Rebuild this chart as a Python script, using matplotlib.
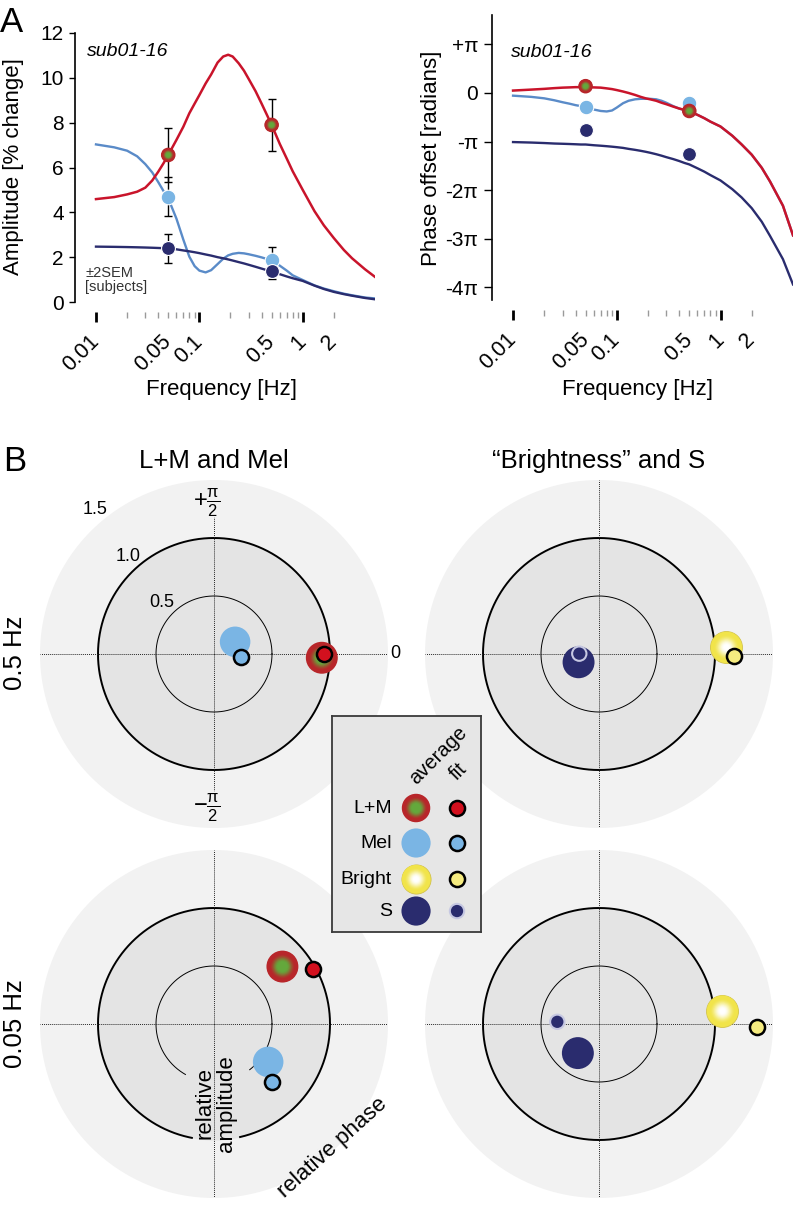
import numpy as np
import matplotlib
matplotlib.use("Agg")
import matplotlib.pyplot as plt
from matplotlib import colors as mcolors

plt.rcParams['font.family'] = ['Liberation Sans', 'DejaVu Sans']
plt.rcParams['mathtext.fontset'] = 'custom'
plt.rcParams['mathtext.rm'] = 'Liberation Sans'
plt.rcParams['mathtext.it'] = 'Liberation Sans:italic'
plt.rcParams['mathtext.bf'] = 'Liberation Sans:bold'

# ---------------- data: panel A ----------------
freq_curve = [0.01, 0.015, 0.02, 0.025, 0.03, 0.035, 0.04, 0.045, 0.05, 0.06, 0.07, 0.08, 0.09,
              0.1, 0.115, 0.13, 0.15, 0.17, 0.19, 0.21, 0.24, 0.27, 0.3, 0.35, 0.4, 0.45,
              0.5, 0.6, 0.7, 0.8, 1.0, 1.3, 1.6, 2.0, 2.5, 3.0, 4.0, 5.0]
amp_lm_curve = [4.59, 4.68, 4.80, 4.92, 5.10, 5.42, 5.81, 6.19, 6.56, 7.23, 7.82, 8.42, 8.85,
                9.23, 9.75, 10.15, 10.68, 10.95, 11.03, 10.95, 10.65, 10.32, 9.95, 9.4, 8.85, 8.35,
                7.90, 7.05, 6.4, 5.83, 5.0, 4.05, 3.42, 2.85, 2.32, 1.95, 1.46, 1.12]
amp_mel_curve = [7.03, 6.9, 6.75, 6.5, 6.15, 5.78, 5.35, 4.95, 4.62, 3.72, 2.78, 2.02, 1.6,
                 1.4, 1.32, 1.42, 1.69, 1.93, 2.08, 2.15, 2.19, 2.17, 2.13, 2.06, 1.99, 1.92,
                 1.87, 1.62, 1.4, 1.19, 0.98, 0.74, 0.6, 0.48, 0.37, 0.3, 0.2, 0.16]
amp_s_curve = [2.47, 2.46, 2.45, 2.44, 2.43, 2.42, 2.41, 2.40, 2.39, 2.35, 2.3, 2.26, 2.22,
               2.18, 2.12, 2.07, 2.0, 1.95, 1.9, 1.85, 1.78, 1.72, 1.66, 1.57, 1.49, 1.42,
               1.36, 1.24, 1.14, 1.06, 0.94, 0.73, 0.58, 0.45, 0.35, 0.28, 0.18, 0.12]
# phase in units of pi
ph_lm_curve = [0.05, 0.07, 0.085, 0.10, 0.11, 0.115, 0.12, 0.12, 0.12, 0.115, 0.11, 0.095, 0.08,
               0.06, 0.03, 0.0, -0.04, -0.08, -0.11, -0.13, -0.16, -0.2, -0.23, -0.28, -0.32, -0.35,
               -0.38, -0.45, -0.52, -0.59, -0.69, -0.88, -1.06, -1.27, -1.54, -1.82, -2.32, -2.93]
ph_mel_curve = [-0.055, -0.08, -0.11, -0.15, -0.19, -0.22, -0.25, -0.27, -0.29, -0.34, -0.37, -0.38, -0.36,
                -0.3, -0.21, -0.16, -0.13, -0.12, -0.12, -0.12, -0.13, -0.16, -0.2, -0.27, -0.32, -0.35,
                -0.38, -0.45, -0.52, -0.59, -0.69, -0.88, -1.06, -1.27, -1.54, -1.82, -2.32, -2.93]
ph_s_curve = [-1.01, -1.02, -1.03, -1.04, -1.045, -1.05, -1.055, -1.06, -1.06, -1.075, -1.085, -1.095, -1.105,
              -1.115, -1.13, -1.15, -1.17, -1.19, -1.21, -1.23, -1.26, -1.29, -1.32, -1.36, -1.40, -1.44,
              -1.47, -1.55, -1.62, -1.69, -1.80, -1.98, -2.15, -2.37, -2.65, -2.94, -3.42, -3.94]

freq_pts = [0.05, 0.5]
amp_lm_pts = [6.56, 7.9]
amp_mel_pts = [4.7, 1.87]
amp_s_pts = [2.39, 1.38]
err_lm = [1.2, 1.16]
err_mel = [0.87, 0.6]
err_s = [0.66, 0.34]
ph_lm_pts = [0.14, -0.37]
ph_mel_pts = [-0.29, -0.21]
ph_s_pts = [-0.76, -1.25]

major_ticks = [0.01, 0.1, 1]
major_labels = ['0.01', '0.1', '1']
minor_ticks = [0.02, 0.03, 0.04, 0.05, 0.06, 0.07, 0.08, 0.09,
               0.2, 0.3, 0.4, 0.5, 0.6, 0.7, 0.8, 0.9, 2]
minor_labels = ['', '', '', '0.05', '', '', '', '', '', '', '', '0.5', '', '', '', '', '2']
amp_ticks = [0, 2, 4, 6, 8, 10, 12]
phase_ticks = [1, 0, -1, -2, -3, -4]
phase_labels = ['+π', '0', '-π', '-2π', '-3π', '-4π']

# ---------------- data: panel B (relative amplitude, phase in degrees) ----------------
polar_rows = ['0.5 Hz', '0.05 Hz']
lm_avg_amp = [0.93, 0.77];   lm_avg_deg = [-2, 40]
lm_fit_amp = [0.95, 0.98];   lm_fit_deg = [0, 29]
mel_avg_amp = [0.21, 0.57];  mel_avg_deg = [30, -35]
mel_fit_amp = [0.23, 0.71];  mel_fit_deg = [-6, -45]
br_avg_amp = [1.10, 1.07];   br_avg_deg = [3, 6]
br_fit_amp = [1.16, 1.36];   br_fit_deg = [-1, -1]
s_avg_amp = [0.19, 0.31];    s_avg_deg = [-158, -126]
s_fit_amp = [0.17, 0.36];    s_fit_deg = [179, 177]

legend_names = ['L+M', 'Mel', 'Bright', 'S']

# ---------------- colours ----------------
C_LM = '#c9142b'
C_MEL_LINE = '#5a8bc8'
C_MEL = '#7ab5e4'
C_S = '#2a2c6e'
C_RED_RIM = '#b8262a'
C_GREEN = '#64a83c'
C_FIT_RED = '#d3101e'
C_YEL = '#f1e44a'
C_FIT_YEL = '#f6ec80'
C_HALO = '#c6c8e2'
C_OUT = '#f2f2f2'
C_IN = '#e4e4e4'

W, H = 796, 1205
fig = plt.figure(figsize=(W / 100, H / 100), dpi=100)


def px_axes(left, top, right, bottom, **kw):
    return fig.add_axes([left / W, 1 - bottom / H, (right - left) / W, (bottom - top) / H], **kw)


def px_text(x, y, s, **kw):
    return fig.text(x / W, 1 - y / H, s, **kw)


def gradient_disk(ax, xs, ys, diam, c_edge, c_center, z, inner=0.2, outer=0.8, n=22, **kw):
    ce = np.array(mcolors.to_rgb(c_edge))
    cc = np.array(mcolors.to_rgb(c_center))
    for i in range(n):
        frac = 1 - i / n
        w = np.clip((outer - frac) / (outer - inner), 0, 1)
        w = w * w * (3 - 2 * w)
        col = ce * (1 - w) + cc * w
        ax.scatter(xs, ys, s=(diam * frac) ** 2, color=col, edgecolors='none',
                   zorder=z + i * 0.001, clip_on=False, **kw)


def setup_freq_axis(ax):
    ax.set_xscale('log')
    ax.set_xlim(10 ** -2.203, 5.0)
    for s in ['top', 'right']:
        ax.spines[s].set_visible(False)
    ax.spines['bottom'].set_position(('outward', 7))
    ax.spines['bottom'].set_visible(False)
    ax.spines['left'].set_linewidth(1.2)
    ax.set_xticks(major_ticks, labels=major_labels)
    ax.set_xticks(minor_ticks, labels=minor_labels, minor=True)
    ax.tick_params(axis='x', which='major', length=7, width=2, color='black',
                   direction='out', labelsize=15.5, pad=12.5)
    ax.tick_params(axis='x', which='minor', length=4.5, width=1, color='#9a9a9a',
                   direction='out', labelsize=15.5, pad=15)
    for lab in ax.get_xticklabels(which='both'):
        lab.set_rotation(45)
        lab.set_ha('right')
        lab.set_va('center')
        lab.set_rotation_mode('anchor')
    ax.tick_params(axis='y', length=4, width=1, labelsize=15, pad=4)
    ax.set_facecolor('none')


# ---------------- Panel A left: amplitude ----------------
axA = px_axes(75, 33, 375, 302)
setup_freq_axis(axA)
axA.set_ylim(0, 12)
axA.set_yticks(amp_ticks)
axA.plot(freq_curve, amp_mel_curve, color=C_MEL_LINE, lw=1.7, zorder=2)
axA.plot(freq_curve, amp_s_curve, color=C_S, lw=1.7, zorder=2.1)
axA.plot(freq_curve, amp_lm_curve, color=C_LM, lw=1.8, zorder=2.2)
for vals, err in [(amp_lm_pts, err_lm), (amp_mel_pts, err_mel), (amp_s_pts, err_s)]:
    axA.errorbar(freq_pts, vals, yerr=err, fmt='none', ecolor='black', elinewidth=1,
                 capsize=2.8, capthick=1, zorder=3)
axA.plot(freq_pts, amp_mel_pts, 'o', ms=10.5, mfc=C_MEL, mec='white', mew=0.8, zorder=4, clip_on=False)
axA.plot(freq_pts, amp_s_pts, 'o', ms=10, mfc=C_S, mec='white', mew=0.8, zorder=4.5, clip_on=False)
gradient_disk(axA, freq_pts, amp_lm_pts, 10.5, C_RED_RIM, C_GREEN, 5, inner=0.3, outer=0.8, n=14)
axA.text(0.04, 0.933, 'sub01-16', transform=axA.transAxes, fontsize=14, style='italic',
         ha='left', va='center')
axA.text(0.035, 0.082, '±2SEM\n[subjects]', transform=axA.transAxes, fontsize=10.5,
         color='#333333', ha='left', va='center', linespacing=1.05)
px_text(14, 167, 'Amplitude [% change]', fontsize=16, rotation=90, ha='center', va='center')
px_text(221, 389, 'Frequency [Hz]', fontsize=16, ha='center', va='center')

# ---------------- Panel A right: phase ----------------
axP = px_axes(492, 15, 793, 300)
setup_freq_axis(axP)
axP.set_ylim(-4.26, 1.605)
axP.set_yticks(phase_ticks, labels=phase_labels)
axP.tick_params(axis='y', length=6)
axP.plot(freq_curve, ph_mel_curve, color=C_MEL_LINE, lw=1.7, zorder=2)
axP.plot(freq_curve, ph_s_curve, color=C_S, lw=1.7, zorder=2.1)
axP.plot(freq_curve, ph_lm_curve, color=C_LM, lw=1.8, zorder=2.2)
axP.plot(freq_pts, ph_mel_pts, 'o', ms=10.5, mfc=C_MEL, mec='white', mew=0.8, zorder=4, clip_on=False)
axP.plot(freq_pts, ph_s_pts, 'o', ms=10, mfc=C_S, mec='white', mew=0.8, zorder=4, clip_on=False)
gradient_disk(axP, freq_pts, ph_lm_pts, 10.5, C_RED_RIM, C_GREEN, 5, inner=0.3, outer=0.8, n=14)
axP.text(0.063, 0.867, 'sub01-16', transform=axP.transAxes, fontsize=14, style='italic',
         ha='left', va='center')
px_text(432, 158, 'Phase offset [radians]', fontsize=16, rotation=90, ha='center', va='center')
px_text(638, 389, 'Frequency [Hz]', fontsize=16, ha='center', va='center')

px_text(0, 6, 'A', fontsize=25, ha='left', va='top')
px_text(3, 445, 'B', fontsize=25, ha='left', va='top')

# ---------------- Panel B: polar plots ----------------
RMAX = 1.5
HALF = 174


def ring(ax, r, lw, gap=None):
    th = np.linspace(0, 2 * np.pi, 721)
    rr = np.full_like(th, r)
    if gap is not None:
        deg = np.rad2deg(th)
        rr[(deg > gap[0]) & (deg < gap[1])] = np.nan
    ax.plot(th, rr, color='black', lw=lw, zorder=2)


def polar_panel(cx, cy, vlen=RMAX, gaps=(None, None)):
    ax = px_axes(cx - HALF, cy - HALF, cx + HALF, cy + HALF, projection='polar')
    ax.set_facecolor(C_OUT)
    ax.spines['polar'].set_visible(False)
    ax.set_ylim(0, RMAX)
    ax.set_xticks([])
    ax.set_yticks([])
    ax.grid(False)
    th = np.linspace(0, 2 * np.pi, 721)
    ax.fill_between(th, 0, 1.0, color=C_IN, lw=0, zorder=0.5)
    ring(ax, 1.0, 1.4, gaps[0])
    ring(ax, 0.5, 0.7, gaps[1])
    dot = dict(color='#222222', lw=0.7, ls=(0, (1, 1.1)), zorder=3)
    ax.plot([0, 0], [0, RMAX], **dot)
    ax.plot([np.pi, np.pi], [0, RMAX], **dot)
    ax.plot([np.pi / 2, np.pi / 2], [0, vlen], **dot)
    ax.plot([3 * np.pi / 2, 3 * np.pi / 2], [0, vlen], **dot)
    return ax


def fit_marker(ax, th, r, face, z=8):
    ax.scatter([th], [r], s=118, color=face, edgecolors='black', linewidths=1.8,
               zorder=z, clip_on=False)


def s_fit_marker(ax, th, r, z=8):
    ax.scatter([th], [r], s=140, color=C_HALO, edgecolors='none', zorder=z, clip_on=False)
    ax.scatter([th], [r], s=78, color=C_S, edgecolors='none', zorder=z + 0.1, clip_on=False)


def bright_avg(ax, th, r, d=23, z=6):
    ax.scatter([th], [r], s=d ** 2, color=C_YEL, edgecolors='#d2c24a', linewidths=0.6,
               zorder=z - 0.01, clip_on=False)
    gradient_disk(ax, [th], [r], d * 0.97, C_YEL, '#ffffff', z, inner=0.15, outer=0.85)


centers_x = [214, 599]
centers_y = [654, 1024]
for row in range(2):
    cy = centers_y[row]
    # L+M and Mel
    if row == 0:
        ax = polar_panel(centers_x[0], cy, vlen=1.18)
    else:
        ax = polar_panel(centers_x[0], cy, gaps=((259, 283), (241, 308)))
    gradient_disk(ax, [np.deg2rad(lm_avg_deg[row])], [lm_avg_amp[row]], 23, C_RED_RIM, C_GREEN, 6,
                  inner=0.3, outer=0.82)
    fit_marker(ax, np.deg2rad(lm_fit_deg[row]), lm_fit_amp[row], C_FIT_RED)
    ax.scatter([np.deg2rad(mel_avg_deg[row])], [mel_avg_amp[row]], s=22 ** 2, color=C_MEL,
               edgecolors='none', zorder=6, clip_on=False)
    fit_marker(ax, np.deg2rad(mel_fit_deg[row]), mel_fit_amp[row], C_MEL)
    if row == 0:
        ax.text(0.5, 1.055, 'L+M and Mel', transform=ax.transAxes, fontsize=18.5,
                ha='center', va='center')
        ax.text(0.158, 0.914, '1.5', transform=ax.transAxes, fontsize=13, ha='center', va='center')
        ax.text(0.253, 0.779, '1.0', transform=ax.transAxes, fontsize=13, ha='center', va='center')
        ax.text(0.351, 0.647, '0.5', transform=ax.transAxes, fontsize=13, ha='center', va='center')
        ax.text(1.022, 0.5, '0', transform=ax.transAxes, fontsize=13, ha='center', va='center')
        ax.text(0.478, 0.935, r'$+\frac{\mathrm{\pi}}{2}$', transform=ax.transAxes, fontsize=17,
                ha='center', va='center')
        ax.text(0.478, 0.058, r'$-\frac{\mathrm{\pi}}{2}$', transform=ax.transAxes, fontsize=17,
                ha='center', va='center')
        px_text(15, 653, polar_rows[0], rotation=90, fontsize=18.5, ha='center', va='center')
    else:
        ax.text(0.505, 0.272, 'relative\namplitude', transform=ax.transAxes, fontsize=16,
                rotation=90, ha='center', va='center', multialignment='center', linespacing=1.0,
                zorder=2.5)
        ax.text(0.842, 0.144, 'relative phase', transform=ax.transAxes, fontsize=16,
                rotation=42, ha='center', va='center', rotation_mode='anchor')
        px_text(15, 1024, polar_rows[1], rotation=90, fontsize=18.5, ha='center', va='center')

    # Brightness and S
    ax = polar_panel(centers_x[1], cy)
    bright_avg(ax, np.deg2rad(br_avg_deg[row]), br_avg_amp[row])
    fit_marker(ax, np.deg2rad(br_fit_deg[row]), br_fit_amp[row], C_FIT_YEL)
    ax.scatter([np.deg2rad(s_avg_deg[row])], [s_avg_amp[row]], s=23 ** 2, color=C_S,
               edgecolors='none', zorder=6, clip_on=False)
    s_fit_marker(ax, np.deg2rad(s_fit_deg[row]), s_fit_amp[row])
    if row == 0:
        ax.text(0.5, 1.055, '\u201cBrightness\u201d and S', transform=ax.transAxes, fontsize=18.5,
                ha='center', va='center')

# ---------------- legend box ----------------
leg = px_axes(332, 716, 481, 932)
leg.set_zorder(20)
leg.set_facecolor('#e6e6e6')
leg.set_xlim(0, 1)
leg.set_ylim(0, 1)
leg.set_xticks([])
leg.set_yticks([])
for s in leg.spines.values():
    s.set_color('#3a3a3a')
    s.set_linewidth(1.3)
rows_y = [0.574, 0.412, 0.245, 0.097]
for name, yy in zip(legend_names, rows_y):
    leg.text(0.403, yy, name, fontsize=14, ha='right', va='center')
leg.text(0.711, 0.819, 'average', fontsize=14.5, rotation=45, ha='center', va='center')
leg.text(0.846, 0.741, 'fit', fontsize=14.5, rotation=45, ha='center', va='center')
xa, xf = 0.564, 0.839
gradient_disk(leg, [xa], [rows_y[0]], 20.5, C_RED_RIM, C_GREEN, 5, inner=0.3, outer=0.82)
fit_marker(leg, xf, rows_y[0], C_FIT_RED)
leg.scatter([xa], [rows_y[1]], s=21 ** 2, color=C_MEL, edgecolors='none', zorder=5)
fit_marker(leg, xf, rows_y[1], C_MEL)
bright_avg(leg, xa, rows_y[2], d=21)
fit_marker(leg, xf, rows_y[2], C_FIT_YEL)
leg.scatter([xa], [rows_y[3]], s=21 ** 2, color=C_S, edgecolors='none', zorder=5)
s_fit_marker(leg, xf, rows_y[3])

fig.savefig('out.png', dpi=100)
